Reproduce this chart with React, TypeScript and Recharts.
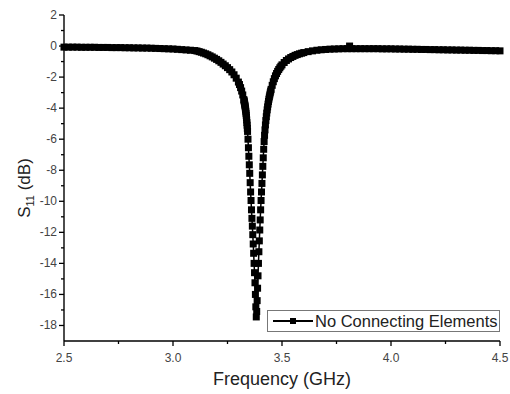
import { LineChart, Line, XAxis, YAxis, Legend } from "recharts"

// S11 sweep, frequency in GHz and return loss in dB
const freqGHz = [
  2.5, 2.52, 2.54, 2.56, 2.58, 2.6, 2.62, 2.64, 2.66, 2.68,
  2.7, 2.72, 2.74, 2.76, 2.78, 2.8, 2.82, 2.84, 2.86, 2.88,
  2.9, 2.92, 2.94, 2.96, 2.98, 3.0, 3.02, 3.04, 3.06, 3.08,
  3.1, 3.11, 3.12, 3.13, 3.14, 3.15, 3.16, 3.17, 3.18, 3.19,
  3.2, 3.21, 3.22, 3.23, 3.24, 3.25, 3.26, 3.27, 3.28, 3.29,
  3.3, 3.305, 3.31, 3.315, 3.32,
  3.325, 3.326, 3.327, 3.328, 3.329, 3.33, 3.331, 3.332, 3.333, 3.334,
  3.335, 3.336, 3.337, 3.338, 3.339, 3.34, 3.341, 3.342,
  3.344, 3.346, 3.348, 3.35, 3.352, 3.354, 3.356, 3.358, 3.36, 3.362,
  3.364, 3.366, 3.368, 3.37, 3.372, 3.374, 3.376, 3.378, 3.38, 3.382,
  3.384, 3.386, 3.388, 3.39, 3.392, 3.394, 3.396, 3.398, 3.4, 3.402,
  3.404, 3.406, 3.408, 3.41, 3.412, 3.414, 3.416, 3.418, 3.42,
  3.422, 3.424, 3.426, 3.428, 3.43, 3.432, 3.434, 3.436, 3.438, 3.44,
  3.442, 3.444, 3.446, 3.448, 3.45,
  3.455, 3.46, 3.465, 3.47, 3.475, 3.48, 3.485, 3.49, 3.495, 3.5,
  3.51, 3.52, 3.53, 3.54, 3.55, 3.56, 3.57, 3.58, 3.59, 3.6,
  3.62, 3.64, 3.66, 3.68, 3.7, 3.72, 3.74, 3.76, 3.78, 3.8,
  3.81, 3.82,
  3.84, 3.86, 3.88, 3.9, 3.92, 3.94, 3.96, 3.98, 4.0, 4.02,
  4.04, 4.06, 4.08, 4.1, 4.12, 4.14, 4.16, 4.18, 4.2, 4.22,
  4.24, 4.26, 4.28, 4.3, 4.32, 4.34, 4.36, 4.38, 4.4, 4.42,
  4.44, 4.46, 4.48, 4.5,
]

const s11dB = [
  -0.07, -0.07, -0.07, -0.07, -0.08, -0.08, -0.08, -0.08, -0.09, -0.09,
  -0.09, -0.1, -0.1, -0.1, -0.11, -0.11, -0.12, -0.12, -0.13, -0.13,
  -0.14, -0.15, -0.16, -0.17, -0.18, -0.19, -0.21, -0.23, -0.25, -0.27,
  -0.29, -0.32, -0.36, -0.4, -0.45, -0.5, -0.56, -0.63, -0.7, -0.78,
  -0.86, -0.95, -1.05, -1.16, -1.27, -1.39, -1.52, -1.67, -1.85, -2.07,
  -2.32, -2.48, -2.68, -2.9, -3.15,
  -3.45, -3.52, -3.59, -3.66, -3.74, -3.82, -3.91, -4.0, -4.1, -4.2,
  -4.33, -4.46, -4.6, -4.76, -4.93, -5.1, -5.3, -5.5,
  -6.0, -6.55, -7.1, -7.65, -8.2, -8.8, -9.4, -9.95, -10.55, -11.1,
  -11.6, -12.15, -12.75, -13.35, -14.0, -14.6, -15.25, -16.0, -16.8, -17.45,
  -17.1, -16.4, -15.6, -14.8, -14.0, -13.25, -12.55, -11.85, -11.2, -10.55,
  -9.95, -9.4, -8.85, -8.3, -7.75, -7.2, -6.65, -6.15, -5.75,
  -5.4, -5.08, -4.8, -4.55, -4.32, -4.11, -3.92, -3.74, -3.57, -3.42,
  -3.28, -3.15, -3.02, -2.9, -2.79,
  -2.53, -2.3, -2.1, -1.92, -1.77, -1.63, -1.51, -1.4, -1.3, -1.21,
  -1.06, -0.93, -0.83, -0.74, -0.67, -0.6, -0.55, -0.5, -0.46, -0.42,
  -0.36, -0.31, -0.27, -0.24, -0.22, -0.2, -0.19, -0.18, -0.17, -0.17,
  0.0, -0.17,
  -0.17, -0.17, -0.17, -0.17, -0.17, -0.17, -0.18, -0.18, -0.18, -0.19,
  -0.19, -0.2, -0.2, -0.21, -0.21, -0.22, -0.22, -0.23, -0.23, -0.24,
  -0.24, -0.25, -0.25, -0.26, -0.26, -0.27, -0.27, -0.28, -0.28, -0.29,
  -0.29, -0.3, -0.3, -0.31,
]

const xMajor = [2.5, 3.0, 3.5, 4.0, 4.5]
const xMinor = [2.75, 3.25, 3.75, 4.25]
const yMajor = [-18, -16, -14, -12, -10, -8, -6, -4, -2, 0, 2]
const yMinor = [-17, -15, -13, -11, -9, -7, -5, -3, -1, 1]
const seriesName = "No Connecting Elements"

const data = freqGHz.map((f, i) => ({ f, s11: s11dB[i] }))

const FONT = '"Liberation Sans", Arial, sans-serif'
const TICK_SIZE = 5
const TICK_MARGIN = 2
const MARK = 7

function XTick({ x, y, payload }: any) {
  const major = xMajor.includes(payload.value)
  const axisY = y - TICK_SIZE - TICK_MARGIN
  return (
    <g>
      <line x1={x} x2={x} y1={axisY} y2={axisY + (major ? 5 : 3)} stroke="#000" strokeWidth={1.3} />
      {major && (
        <text x={x} y={axisY + 21} textAnchor="middle" fontSize={12} fill="#444" fontFamily={FONT}>
          {payload.value.toFixed(1)}
        </text>
      )}
    </g>
  )
}

function YTick({ x, y, payload }: any) {
  const major = yMajor.includes(payload.value)
  const axisX = x + TICK_SIZE + TICK_MARGIN
  return (
    <g>
      <line x1={axisX - (major ? 5 : 3)} x2={axisX} y1={y} y2={y} stroke="#000" strokeWidth={1.3} />
      {major && (
        <text x={axisX - 7} y={y + 4} textAnchor="end" fontSize={12} fill="#444" fontFamily={FONT}>
          {payload.value}
        </text>
      )}
    </g>
  )
}

function SquareDot({ cx, cy, index }: any) {
  return <rect key={index} x={cx - MARK / 2} y={cy - MARK / 2} width={MARK} height={MARK} fill="#000" />
}

function LegendBox() {
  return (
    <div
      style={{
        boxSizing: "border-box",
        width: 233,
        height: 22,
        border: "1px solid #777",
        background: "#fff",
        display: "flex",
        alignItems: "center",
        paddingLeft: 4,
        fontFamily: FONT,
        fontSize: 16.5,
        color: "#222",
        whiteSpace: "nowrap",
      }}
    >
      <svg width={43} height={10}>
        <line x1={1} x2={41} y1={5} y2={5} stroke="#000" strokeWidth={2} />
        <rect x={18} y={2} width={6} height={6} fill="#000" />
      </svg>
      <span>{seriesName}</span>
    </div>
  )
}

export default function App() {
  return (
    <div style={{ position: "absolute", left: 0, top: 0, background: "#fff" }}>
      <LineChart width={510} height={394} data={data} margin={{ top: 15, right: 10, left: 0, bottom: 0 }}>
        <XAxis
          dataKey="f"
          type="number"
          domain={[2.5, 4.5]}
          ticks={[...xMajor, ...xMinor].sort((a, b) => a - b)}
          interval={0}
          height={53}
          tickSize={TICK_SIZE}
          tickMargin={TICK_MARGIN}
          tickLine={false}
          tick={<XTick />}
          axisLine={{ stroke: "#000", strokeWidth: 1.4 }}
          label={({ viewBox }: any) => (
            <text
              x={viewBox.x + viewBox.width / 2}
              y={viewBox.y + 44}
              textAnchor="middle"
              fontSize={18}
              fill="#222"
              fontFamily={FONT}
            >
              Frequency (GHz)
            </text>
          )}
        />
        <YAxis
          type="number"
          domain={[-19, 2]}
          ticks={[...yMajor, ...yMinor].sort((a, b) => a - b)}
          interval={0}
          width={64}
          tickSize={TICK_SIZE}
          tickMargin={TICK_MARGIN}
          tickLine={false}
          tick={<YTick />}
          axisLine={{ stroke: "#000", strokeWidth: 1.4 }}
          label={({ viewBox }: any) => {
            const cx = 30
            const cy = viewBox.y + viewBox.height / 2 + 10
            return (
              <text
                x={cx}
                y={cy}
                transform={`rotate(-90, ${cx}, ${cy})`}
                textAnchor="middle"
                fontSize={17}
                fill="#222"
                fontFamily={FONT}
              >
                <tspan>S</tspan>
                <tspan fontSize={11} dy={4}>11</tspan>
                <tspan dy={-4}> (dB)</tspan>
              </text>
            )
          }}
        />
        <Legend
          layout="horizontal"
          verticalAlign="middle"
          align="center"
          wrapperStyle={{ left: 267, top: 310, width: 233, height: 22 }}
          content={() => <LegendBox />}
        />
        <Line
          dataKey="s11"
          name={seriesName}
          stroke="#000"
          strokeWidth={1.5}
          dot={SquareDot}
          activeDot={false}
          isAnimationActive={false}
        />
      </LineChart>
    </div>
  )
}
